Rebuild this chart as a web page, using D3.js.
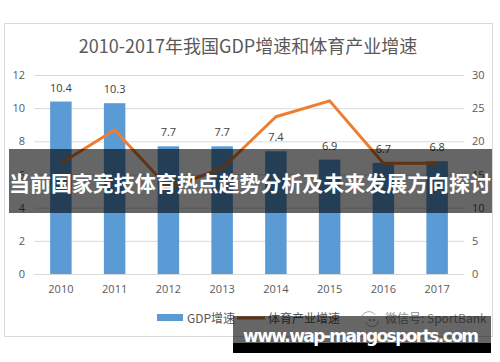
<!DOCTYPE html>
<html>
<head>
<meta charset="utf-8">
<script src="https://cdn.jsdelivr.net/npm/d3@7"></script>
<style>
  body { margin: 0; background: #fff; }
  svg { display: block; font-family: "Noto Sans CJK SC", "Open Sans", sans-serif; }
</style>
</head>
<body>
<svg id="chart" width="500" height="362"></svg>
<script>
// data
const years = ["2010", "2011", "2012", "2013", "2014", "2015", "2016", "2017"];
const gdpGrowth = [10.4, 10.3, 7.7, 7.7, 7.4, 6.9, 6.7, 6.8];
const sportGrowth = [16.7, 21.7, 13.0, 15.9, 23.7, 26.1, 16.7, 16.7];
const leftTicks = [0, 2, 4, 6, 8, 10, 12];
const rightTicks = [0, 5, 10, 15, 20, 25, 30];

const svg = d3.select("#chart");
const grey = "#595959";
const margin = { top: 75, left: 34, right: 36, bottom: 88 };
const width = 500 - margin.left - margin.right;
const height = 362 - margin.top - margin.bottom;

// chart frame
svg.append("rect")
  .attr("x", 4.5).attr("y", 23.5)
  .attr("width", 488).attr("height", 313)
  .attr("fill", "#fff").attr("stroke", "#d9d9d9");

svg.append("text")
  .attr("x", 248).attr("y", 53)
  .attr("text-anchor", "middle")
  .attr("font-size", 18)
  .attr("fill", grey)
  .text("2010-2017年我国GDP增速和体育产业增速");

const g = svg.append("g")
  .attr("transform", `translate(${margin.left},${margin.top})`);

const x = d3.scaleBand().domain(years).range([0, width])
  .paddingInner(0.6).paddingOuter(0.3);
const yL = d3.scaleLinear().domain([0, 12]).range([height, 0]);
const yR = d3.scaleLinear().domain([0, 30]).range([height, 0]);

// gridlines
g.append("g")
  .call(d3.axisLeft(yL).tickValues(leftTicks).tickSize(-width).tickFormat(""))
  .call(a => a.select(".domain").remove())
  .call(a => a.selectAll("line").attr("stroke", "#d9d9d9"));

// axes
g.append("g")
  .call(d3.axisLeft(yL).tickValues(leftTicks).tickSize(0).tickPadding(9))
  .call(a => a.select(".domain").remove())
  .call(a => a.selectAll("text").attr("fill", grey).attr("font-size", 11)
    .attr("font-family", "Open Sans, sans-serif"));

g.append("g")
  .attr("transform", `translate(${width},0)`)
  .call(d3.axisRight(yR).tickValues(rightTicks).tickSize(0).tickPadding(8))
  .call(a => a.select(".domain").remove())
  .call(a => a.selectAll("text").attr("fill", grey).attr("font-size", 11)
    .attr("font-family", "Open Sans, sans-serif"));

g.append("g")
  .attr("transform", `translate(0,${height})`)
  .call(d3.axisBottom(x).tickSize(0).tickPadding(11))
  .call(a => a.select(".domain").remove())
  .call(a => a.selectAll("text").attr("fill", grey).attr("font-size", 11)
    .attr("font-family", "Open Sans, sans-serif"));

// bars
g.selectAll(".bar")
  .data(gdpGrowth)
  .join("rect")
  .attr("class", "bar")
  .attr("x", (d, i) => x(years[i]))
  .attr("y", d => yL(d))
  .attr("width", x.bandwidth())
  .attr("height", d => height - yL(d))
  .attr("fill", "#5b9bd5");

g.selectAll(".lbl")
  .data(gdpGrowth)
  .join("text")
  .attr("class", "lbl")
  .attr("x", (d, i) => x(years[i]) + x.bandwidth() / 2)
  .attr("y", d => yL(d) - 10)
  .attr("text-anchor", "middle")
  .attr("font-size", 11)
  .attr("font-family", "Open Sans, sans-serif")
  .attr("fill", "#404040")
  .text(d => d);

// line
const line = d3.line()
  .x((d, i) => x(years[i]) + x.bandwidth() / 2)
  .y(d => yR(d));

g.append("path")
  .datum(sportGrowth)
  .attr("d", line)
  .attr("fill", "none")
  .attr("stroke", "#ed7d31")
  .attr("stroke-width", 3)
  .attr("stroke-linejoin", "round");

// legend
const lg = svg.append("g").attr("font-size", 12).attr("fill", grey);
lg.append("rect").attr("x", 157).attr("y", 314).attr("width", 26).attr("height", 7).attr("fill", "#5b9bd5");
lg.append("text").attr("x", 187).attr("y", 322.5).text("GDP增速");
lg.append("line").attr("x1", 237).attr("x2", 265).attr("y1", 318).attr("y2", 318)
  .attr("stroke", "#ed7d31").attr("stroke-width", 3);
lg.append("text").attr("x", 268).attr("y", 322.5).text("体育产业增速");

// wechat-like icon + account
const ic = lg.append("g").attr("fill", "none").attr("stroke", "#a6a6a6").attr("stroke-width", 1);
ic.append("path").attr("d", "M362,316 A7,6 0 0 1 375,315");
ic.append("path").attr("d", "M366,322 A6,5 0 1 0 378,321");
ic.append("circle").attr("cx", 370).attr("cy", 320).attr("r", 0.8).attr("fill", "#a6a6a6");
ic.append("circle").attr("cx", 374).attr("cy", 320).attr("r", 0.8).attr("fill", "#a6a6a6");
lg.append("text").attr("x", 385).attr("y", 322.5).attr("fill", "#8c8c8c").text("微信号: SportBank");

// overlay banner across the middle
svg.append("rect")
  .attr("x", 9).attr("y", 149)
  .attr("width", 483).attr("height", 64)
  .attr("fill", "rgba(0,0,0,0.6)");
svg.append("text")
  .attr("x", 250).attr("y", 190.5)
  .attr("text-anchor", "middle")
  .attr("font-size", 21)
  .attr("font-weight", "bold")
  .attr("fill", "#fff")
  .attr("textLength", 482)
  .text("当前国家竞技体育热点趋势分析及未来发展方向探讨");

// watermark box
svg.append("rect")
  .attr("x", 233).attr("y", 316)
  .attr("width", 258).attr("height", 27)
  .attr("fill", "rgba(0,0,0,0.6)");
svg.append("rect")
  .attr("x", 233).attr("y", 343)
  .attr("width", 258).attr("height", 10)
  .attr("fill", "#000");
svg.append("text")
  .attr("x", 243).attr("y", 341.5)
  .attr("font-family", "DejaVu Sans, sans-serif")
  .attr("font-size", 17)
  .attr("font-weight", "bold")
  .attr("fill", "#fff")
  .attr("textLength", 236)
  .text("www.wap-mangosports.com");
</script>
</body>
</html>
